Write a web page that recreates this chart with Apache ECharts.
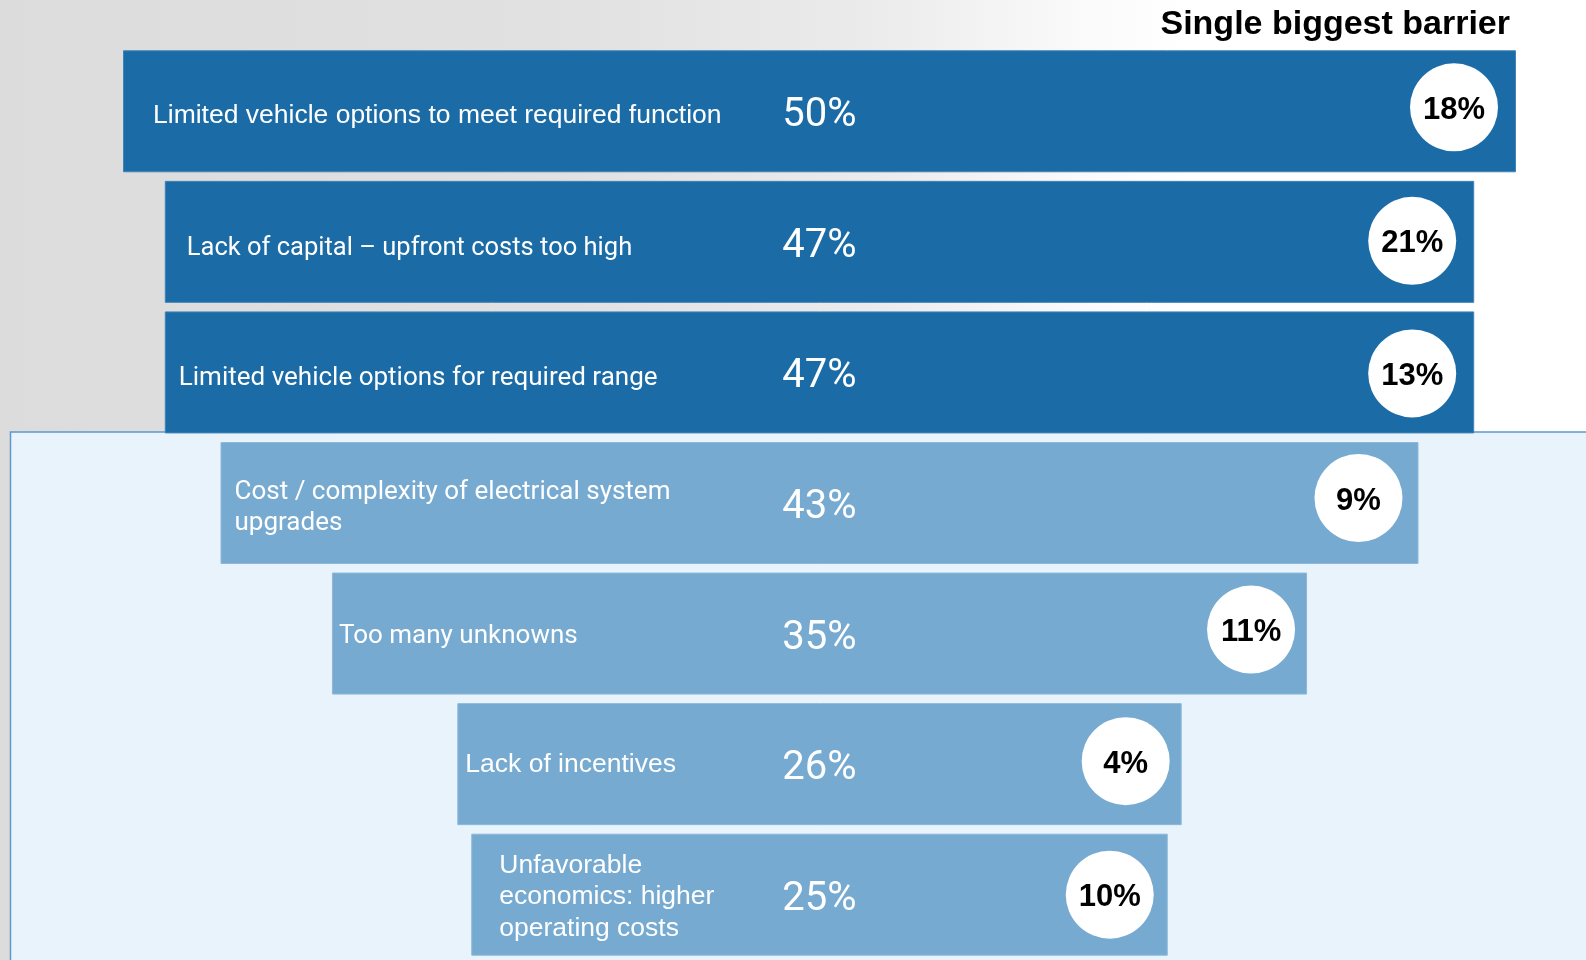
<!DOCTYPE html>
<html>
<head>
<meta charset="utf-8">
<title>Barriers to fleet electrification</title>
<script src="https://cdn.jsdelivr.net/npm/echarts@6/dist/echarts.min.js"></script>
<style>
  html, body { margin: 0; padding: 0; background: #ffffff; }
  #chart { width: 1586px; height: 960px; }
</style>
</head>
<body>
<div id="chart"></div>
<script>
// Barriers, share of respondents citing each one, and share naming it the single biggest barrier
const categories = [
  'Limited vehicle options to meet required function',
  'Lack of capital \u2013 upfront costs too high',
  'Limited vehicle options for required range',
  'Cost / complexity of electrical system\nupgrades',
  'Too many unknowns',
  'Lack of incentives',
  'Unfavorable\neconomics: higher\noperating costs'
];
const citedShare = [50, 47, 47, 43, 35, 26, 25];
const biggestShare = [18, 21, 13, 9, 11, 4, 10];
const topTierCount = 3;   // the three leading barriers are shown in the darker tone
const axisMax = 50;

// Per-row text look: label font and size, inner left padding, vertical nudge,
// and badge offset from the bar's right end
const ARIAL = "'Liberation Sans', Arial, sans-serif";
const ROBOTO = 'Roboto, sans-serif';
const rowLook = [
  { font: ARIAL,  size: 26.5, pad: 30, dy: 4, badge: [-62, -4] },
  { font: ROBOTO, size: 25.5, pad: 22, dy: 7, badge: [-62, -1] },
  { font: ROBOTO, size: 26,   pad: 14, dy: 6, badge: [-62, 1] },
  { font: ROBOTO, size: 26,   pad: 14, dy: 5, badge: [-60, -5] },
  { font: ROBOTO, size: 26,   pad: 7,  dy: 3, badge: [-56, -4] },
  { font: ARIAL,  size: 26.5, pad: 8,  dy: 1, badge: [-56, -3] },
  { font: ARIAL,  size: 26.5, pad: 28, dy: 2, badge: [-58, 0] }
];

const DARK = '#1b6ca6';
const LIGHT = '#77aad0';

const chart = echarts.init(document.getElementById('chart'), null, { renderer: 'canvas' });

// Invisible spacer that centres each bar, carrying the barrier name just inside the bar's left edge
const spacerData = citedShare.map((v, i) => ({
  value: (axisMax - v) / 2,
  label: {
    show: true,
    position: 'right',
    distance: rowLook[i].pad,
    offset: [0, rowLook[i].dy],
    formatter: categories[i],
    color: '#ffffff',
    fontSize: rowLook[i].size,
    lineHeight: 31.5,
    fontFamily: rowLook[i].font,
    align: 'left'
  }
}));

const barData = citedShare.map((v, i) => ({
  value: v,
  itemStyle: {
    color: i < topTierCount ? DARK : LIGHT,
    borderColor: i < topTierCount ? '#3f83b9' : '#8cb8da',
    borderWidth: 1
  }
}));

// White badges sit at the right end of each bar
const badgeData = citedShare.map((v, i) => ({
  value: [(axisMax - v) / 2 + v, i],
  symbolOffset: rowLook[i].badge
}));

const option = {
  animation: false,
  backgroundColor: '#ffffff',
  title: {
    text: 'Single biggest barrier',
    right: 71,
    top: 3,
    textStyle: {
      fontFamily: ARIAL,
      fontSize: 34,
      fontWeight: 'bold',
      color: '#000000'
    }
  },
  graphic: [
    {
      type: 'rect',
      z: -100,
      silent: true,
      shape: { x: 0, y: 0, width: 1586, height: 960 },
      style: {
        fill: new echarts.graphic.LinearGradient(0, 0, 1, 0, [
          { offset: 0, color: '#dcdcdc' },
          { offset: 0.35, color: '#e1e1e1' },
          { offset: 0.55, color: '#ebebeb' },
          { offset: 0.68, color: '#fafafa' },
          { offset: 0.75, color: '#ffffff' },
          { offset: 1, color: '#ffffff' }
        ])
      }
    },
    {
      type: 'rect',
      z: -99,
      silent: true,
      shape: { x: 10.5, y: 432, width: 1590, height: 540 },
      style: { fill: '#e9f3fc', stroke: '#5f98cc', lineWidth: 1.5 }
    }
  ],
  grid: { left: 123, right: 70, top: 46, bottom: 0 },
  xAxis: {
    type: 'value',
    min: 0,
    max: axisMax,
    show: false
  },
  yAxis: {
    type: 'category',
    data: categories,
    inverse: true,
    show: false
  },
  series: [
    {
      name: 'spacer',
      type: 'bar',
      stack: 'funnel',
      barWidth: 122,
      z: 4,
      silent: true,
      itemStyle: { color: 'rgba(0,0,0,0)' },
      data: spacerData
    },
    {
      name: 'Cited as a barrier',
      type: 'bar',
      stack: 'funnel',
      barWidth: 122,
      z: 2,
      label: {
        show: true,
        position: 'inside',
        offset: [0, 5],
        formatter: '{c}%',
        color: '#ffffff',
        fontSize: 40,
        fontWeight: 400,
        fontFamily: ROBOTO
      },
      data: barData
    },
    {
      name: 'Single biggest barrier',
      type: 'scatter',
      symbol: 'circle',
      symbolSize: 88,
      z: 5,
      itemStyle: { color: '#ffffff', opacity: 1 },
      label: {
        show: true,
        position: 'inside',
        offset: [0, 3],
        formatter: (p) => biggestShare[p.dataIndex] + '%',
        color: '#000000',
        fontSize: 31,
        fontWeight: 'bold',
        fontFamily: ARIAL
      },
      data: badgeData
    }
  ]
};

chart.setOption(option);
</script>
</body>
</html>
